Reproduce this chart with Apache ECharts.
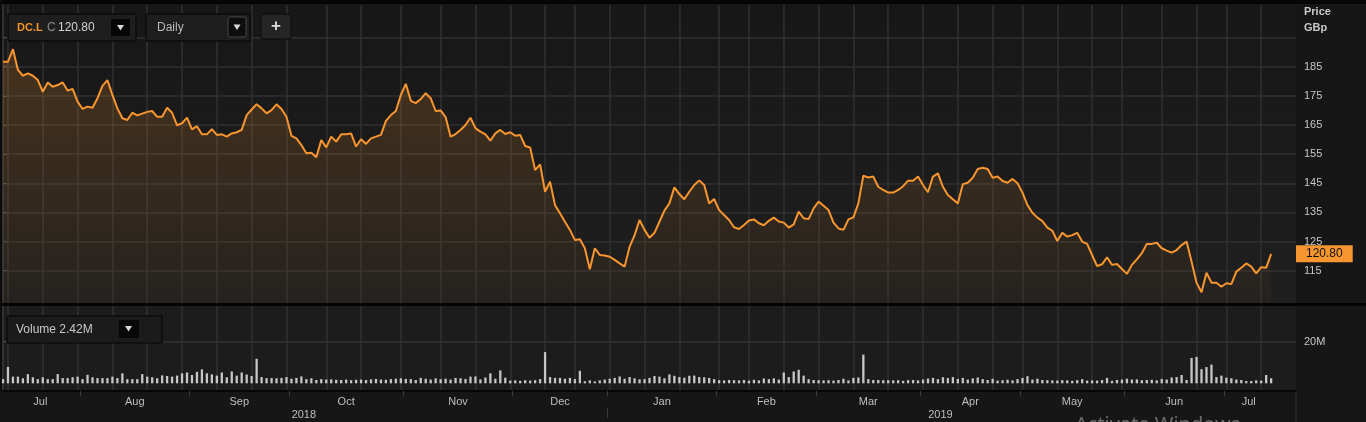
<!DOCTYPE html>
<html><head><meta charset="utf-8">
<script src="https://cdn.jsdelivr.net/npm/echarts@6/dist/echarts.min.js"></script>
<style>html,body{margin:0;padding:0;background:#161616;}#c{width:1366px;height:422px;}</style>
</head><body><div id="c"></div>
<script>
// ---------------- data ----------------
const symbol = 'DC.L';
const startDate = '2018-07-10';
const ukHolidays = ['2018-08-27','2018-12-25','2018-12-26','2019-01-01','2019-04-19','2019-04-22','2019-05-06','2019-05-27'];
const padDays = 5;
const monthNames = ['Jan','Feb','Mar','Apr','May','Jun','Jul','Aug','Sep','Oct','Nov','Dec'];

// daily close, GBp
const price = [
186.7,186.7,191.0,183.9,181.9,182.7,181.9,180.4,176.4,179.6,
178.1,178.7,179.6,176.8,177.4,173.0,170.5,171.3,170.9,174.2,
178.4,180.4,175.3,170.7,167.3,166.7,169.2,168.3,168.9,169.5,
169.8,167.8,167.8,170.9,169.2,164.9,165.6,167.5,163.5,164.6,
161.8,161.8,163.6,161.6,161.8,161.0,162.1,162.5,163.3,168.4,
170.3,172.1,170.7,169.0,170.1,172.1,170.5,167.8,161.3,160.4,
158.1,155.3,155.5,153.9,159.8,157.3,161.0,159.3,161.8,161.8,
162.1,157.6,160.1,158.5,160.4,161.0,161.6,166.4,168.4,169.8,
175.3,179.1,173.3,172.5,173.9,175.9,174.2,169.8,170.0,167.7,
161.0,161.9,163.3,165.0,167.5,163.9,162.7,161.8,159.6,162.1,
163.3,161.9,162.5,161.3,161.6,157.8,157.3,149.5,151.5,142.1,
145.5,137.5,134.7,131.8,129.0,125.5,125.8,122.7,115.5,122.7,
120.4,120.2,119.8,118.7,117.5,116.4,123.2,127.2,132.4,129.0,
126.3,128.0,131.8,135.6,138.1,143.6,141.3,139.5,142.1,144.4,
146.0,144.4,138.1,139.6,135.8,134.1,132.4,129.9,129.3,130.7,
132.2,132.6,131.3,130.6,132.1,133.2,131.9,131.5,129.8,130.9,
135.3,133.0,132.7,136.4,138.7,137.3,135.8,131.5,129.5,129.0,
132.6,133.3,138.1,147.6,147.0,147.3,143.8,142.7,141.8,141.8,
142.7,144.0,145.9,145.9,147.3,144.4,141.9,147.3,148.4,143.8,
141.0,139.5,138.1,144.7,145.2,146.9,149.9,150.3,149.9,146.9,
147.3,145.8,145.2,146.5,145.0,141.8,137.5,134.9,133.2,132.0,
129.8,128.7,125.2,128.0,126.7,127.2,128.0,125.0,124.2,120.4,
116.6,117.2,119.6,117.0,117.3,115.6,113.9,117.0,118.9,121.0,
124.2,124.2,124.6,122.7,121.9,121.2,122.1,123.8,125.0,118.1,
110.9,107.6,114.3,110.9,110.9,109.5,110.7,110.4,114.7,116.0,
117.5,116.4,114.1,116.2,116.0,120.8
];

// daily volume, millions of shares
const volumeM = [
2.0,7.9,3.2,3.2,2.4,4.4,2.9,2.0,2.9,2.0,
2.0,4.4,2.5,2.5,2.9,3.2,2.0,4.1,2.9,2.5,
2.5,2.5,3.2,2.5,4.8,2.0,2.0,2.0,4.4,3.2,
2.9,2.4,3.8,3.5,3.2,3.7,4.8,5.2,4.0,5.5,
6.7,4.8,4.3,3.7,5.2,2.9,5.7,3.7,5.2,4.2,
3.5,11.8,3.0,2.5,2.5,2.4,2.6,3.0,2.2,2.6,
3.3,2.0,2.4,1.6,2.0,1.8,1.9,1.7,1.6,1.8,
1.5,1.7,1.8,1.6,1.9,2.1,1.8,1.7,2.0,2.2,
2.4,2.1,2.0,1.6,2.6,2.2,1.8,2.4,2.0,2.2,
1.8,2.6,2.4,2.1,3.2,3.3,1.9,2.8,4.8,2.2,
6.2,2.7,1.3,1.4,1.2,1.5,1.3,1.5,2.0,15.0,
3.0,2.6,2.6,2.2,2.6,2.0,6.0,1.0,1.4,0.9,
1.4,1.8,2.2,2.6,3.3,2.2,3.0,2.4,1.9,2.0,
2.6,3.5,3.2,2.4,4.3,3.6,3.0,2.7,3.6,3.7,
3.0,2.9,2.6,2.0,1.5,1.4,1.6,1.5,1.4,1.6,
1.3,1.7,1.4,2.3,2.0,2.4,1.8,5.2,3.0,5.7,
6.5,3.7,2.0,1.6,1.5,1.4,1.5,1.3,1.6,2.2,
1.4,2.6,2.8,13.8,2.0,1.6,1.6,1.5,1.5,1.4,
1.5,1.2,1.5,1.6,1.4,1.8,2.3,2.6,2.0,2.9,
2.5,3.0,2.1,2.6,1.8,2.4,2.8,2.0,1.6,2.2,
1.3,1.5,1.7,1.4,2.0,2.6,3.4,1.8,2.2,1.6,
1.5,1.4,1.3,1.5,1.4,1.2,1.5,2.0,1.3,1.4,
1.3,1.6,2.6,1.2,1.6,1.8,2.2,1.8,1.9,1.5,
1.6,1.7,1.4,2.1,1.8,2.8,3.0,4.0,1.6,12.2,
12.7,6.8,7.8,9.0,3.0,3.7,2.7,2.4,1.8,1.6,
1.1,1.1,1.4,1.3,4.0,2.42
];

const priceLabelTicks = [115,125,135,145,155,165,175,185];
const priceGridTicks = [115,125,135,145,155,165,175,185,195];
const volumeTicks = [20];
// trading-day indices of the vertical grid lines
const gridDayIdx = [1,8,15,22,29,36,43,50,57,65,72,80,88,95,102,109,115,122,129,136,144,150,157,164,171,178,185,192,199,205,212,219,225,233,240,246,253];

// ---------------- derived ----------------
const dates = [];
(function(){
  let d = new Date(startDate + 'T00:00:00Z');
  const total = price.length + padDays;
  while (dates.length < total) {
    const wd = d.getUTCDay();
    const s = d.toISOString().slice(0,10);
    if (wd !== 0 && wd !== 6 && ukHolidays.indexOf(s) < 0) dates.push(s);
    d = new Date(d.getTime() + 86400000);
  }
})();
const lastIdx = price.length - 1;
const xMax = lastIdx + padDays;

function spans(keyLen){
  const out = [];
  for (let i = 0; i <= lastIdx; i++) {
    const k = dates[i].slice(0, keyLen);
    if (!out.length || out[out.length-1].key !== k) out.push({key:k, start:i, end:i});
    else out[out.length-1].end = i;
  }
  return out;
}
const months = spans(7);
const years = spans(4);
const monthTickPos = months.slice(1).map(m => m.start - 0.5);
const monthLabelPos = months.map(m => (m.start + m.end) / 2);
const monthLabelTxt = months.map(m => monthNames[+m.key.slice(5,7) - 1]);
const yearTickPos = years.slice(1).map(y => y.start - 0.5);
const yearLabelPos = years.map(y => (y.start + y.end) / 2);
const yearLabelTxt = years.map(y => y.key);
function lookup(pos, txt){ return v => { for (let i=0;i<pos.length;i++) if (Math.abs(pos[i]-v) < 1e-6) return txt[i]; return ''; }; }

const priceData = price.map((v, i) => [i, v]);
const volData = volumeM.map((v, i) => [i, v]);

// ---------------- chart ----------------
const FONT = '"Liberation Sans", Arial, sans-serif';
const GRIDC = '#313131';
const chart = echarts.init(document.getElementById('c'), null, {renderer:'canvas', width:1366, height:422});

const xBase = {
  type:'value', min:0, max:xMax,
  axisLine:{show:false}, axisLabel:{show:false},
  axisTick:{show:false, customValues: gridDayIdx},
  splitLine:{show:true, lineStyle:{color:GRIDC, width:1.5}}
};

function tri(cx, cy, col){
  return {type:'polygon', z:101, shape:{points:[[cx-3.5,cy-2.5],[cx+3.5,cy-2.5],[cx,cy+3]]}, style:{fill:col}};
}

chart.setOption({
  animation:false,
  backgroundColor:'#161616',
  textStyle:{fontFamily:FONT},
  grid:[
    {left:3, right:70, top:5, height:298, show:true, borderWidth:0,
     backgroundColor:new echarts.graphic.LinearGradient(0,0,0,1,[{offset:0,color:'#171717'},{offset:1,color:'#1f1f1f'}])},
    {left:3, right:70, top:306, bottom:31, show:true, borderWidth:0, backgroundColor:'#1c1c1c'}
  ],
  xAxis:[
    Object.assign({}, xBase, {gridIndex:0}),
    Object.assign({}, xBase, {gridIndex:1}),
    {type:'value', gridIndex:1, position:'bottom', min:0, max:xMax,
     axisLine:{show:true, lineStyle:{color:'#070707', width:2}},
     axisTick:{show:true, customValues: monthTickPos, length:5, lineStyle:{color:'#3a3a3a'}},
     axisLabel:{show:true, customValues: monthLabelPos, formatter: lookup(monthLabelPos, monthLabelTxt),
                color:'#bfbfbf', fontSize:11, margin:5, fontFamily:FONT},
     splitLine:{show:false}},
    {type:'value', gridIndex:1, position:'bottom', offset:17, min:0, max:xMax,
     axisLine:{show:false},
     axisTick:{show:true, customValues: yearTickPos, length:10, lineStyle:{color:'#3a3a3a'}},
     axisLabel:{show:true, customValues: yearLabelPos, formatter: lookup(yearLabelPos, yearLabelTxt),
                color:'#bfbfbf', fontSize:11, margin:1, fontFamily:FONT},
     splitLine:{show:false}}
  ],
  yAxis:[
    {type:'value', gridIndex:0, position:'right', min:103.92, max:206.17,
     axisLine:{show:true, lineStyle:{color:'#3a3a3a', width:1.5}},
     axisTick:{show:true, customValues: priceGridTicks, length:4, lineStyle:{color:'#4a4a4a'}},
     axisLabel:{show:true, customValues: priceLabelTicks, color:'#c6c6c6', fontSize:11, margin:8, fontFamily:FONT},
     splitLine:{show:true, lineStyle:{color:GRIDC, width:1.5}}},
    {type:'value', gridIndex:1, position:'right', min:-3.70, max:37.16,
     axisLine:{show:true, lineStyle:{color:'#3a3a3a', width:1.5}},
     axisTick:{show:true, customValues: volumeTicks, length:4, lineStyle:{color:'#4a4a4a'}},
     axisLabel:{show:true, customValues: volumeTicks, formatter: v => v + 'M', color:'#c6c6c6', fontSize:11, margin:8, fontFamily:FONT},
     splitLine:{show:true, lineStyle:{color:GRIDC, width:1.5}}}
  ],
  series:[
    {type:'line', name:symbol, xAxisIndex:0, yAxisIndex:0, data:priceData,
     showSymbol:false, symbol:'none', silent:true, z:3, clip:false,
     lineStyle:{color:'#f7952f', width:2},
     areaStyle:{color:new echarts.graphic.LinearGradient(0,0,0,1,[
        {offset:0,color:'rgba(247,149,47,0.30)'},{offset:1,color:'rgba(247,149,47,0.04)'}])},
     markLine:{silent:true, symbol:'none', animation:false,
       lineStyle:{color:'rgba(0,0,0,0)', width:0, type:'solid'},
       data:[{yAxis: price[lastIdx]}],
       label:{show:true, position:'end', distance:0, formatter: p => Number(p.value).toFixed(2),
              backgroundColor:'#f7952f', color:'#111111', textBorderWidth:0, fontSize:12, fontFamily:FONT,
              padding:[3,10,2,10], opacity:1}}},
    {type:'bar', name:'Volume', xAxisIndex:1, yAxisIndex:1, data:volData,
     barWidth:2.3, silent:true, itemStyle:{color:'#c6c6c6'}}
  ],
  graphic:[
    {type:'rect', z:50, shape:{x:0,y:0,width:1366,height:4}, style:{fill:'#060606'}},
    {type:'rect', z:50, shape:{x:0,y:0,width:2,height:391}, style:{fill:'#0c0c0c'}},
    {type:'rect', z:50, shape:{x:0,y:303,width:1366,height:3}, style:{fill:'#040404'}},
    {type:'rect', z:-1, shape:{x:0,y:391,width:1366,height:31}, style:{fill:'#161616'}},
    {type:'rect', z:50, shape:{x:1295.5,y:392,width:1,height:30}, style:{fill:'#2c2c2c'}},
    // symbol box
    {type:'rect', z:100, shape:{x:8,y:14,width:128,height:27}, style:{fill:'#1e1e1e', stroke:'#050505', lineWidth:1}},
    {type:'text', z:101, style:{x:17,y:27.5,text:symbol,fill:'#f39526',font:'bold 11px '+FONT,verticalAlign:'middle'}},
    {type:'text', z:101, style:{x:47,y:27.5,text:'C',fill:'#8c8c8c',font:'12px '+FONT,verticalAlign:'middle'}},
    {type:'text', z:101, style:{x:58,y:27.5,text:price[lastIdx].toFixed(2),fill:'#d2d2d2',font:'12px '+FONT,verticalAlign:'middle'}},
    {type:'rect', z:100, shape:{x:111,y:19,width:19,height:17}, style:{fill:'#060606'}},
    tri(120.5, 27.5, '#d8d8d8'),
    // interval box
    {type:'rect', z:100, shape:{x:146,y:14,width:104,height:27}, style:{fill:'#1e1e1e', stroke:'#050505', lineWidth:1}},
    {type:'text', z:101, style:{x:157,y:27.5,text:'Daily',fill:'#b9b9b9',font:'12px '+FONT,verticalAlign:'middle'}},
    {type:'rect', z:100, shape:{x:228,y:17,width:18,height:20,r:2}, style:{fill:'#0d0d0d', stroke:'#474747', lineWidth:1}},
    tri(237, 27, '#d8d8d8'),
    // plus button
    {type:'rect', z:100, shape:{x:261,y:14,width:30,height:25,r:2}, style:{fill:'#252525', stroke:'#0a0a0a', lineWidth:1}},
    {type:'text', z:101, style:{x:276,y:26.5,text:'+',fill:'#dcdcdc',font:'bold 17px '+FONT,align:'center',verticalAlign:'middle'}},
    // price header
    {type:'text', z:101, style:{x:1304,y:12,text:'Price',fill:'#c8c8c8',font:'bold 11px '+FONT,verticalAlign:'middle'}},
    {type:'text', z:101, style:{x:1304,y:28,text:'GBp',fill:'#c8c8c8',font:'bold 11px '+FONT,verticalAlign:'middle'}},
    // volume box
    {type:'rect', z:100, shape:{x:7,y:316,width:155,height:27}, style:{fill:'#1b1b1b', stroke:'#050505', lineWidth:1}},
    {type:'text', z:101, style:{x:16,y:330,text:'Volume ' + volumeM[lastIdx].toFixed(2) + 'M',fill:'#c8c8c8',font:'12px '+FONT,verticalAlign:'middle'}},
    {type:'rect', z:100, shape:{x:119,y:320,width:20,height:18}, style:{fill:'#080808'}},
    tri(128.5, 328.5, '#d8d8d8'),
    // OS watermark partially visible
    {type:'text', z:101, style:{x:1075,y:415,text:'Activate Windows',fill:'rgba(190,190,190,0.5)',font:'20px "Noto Sans", sans-serif',verticalAlign:'top'}}
  ]
});
</script>
</body></html>
